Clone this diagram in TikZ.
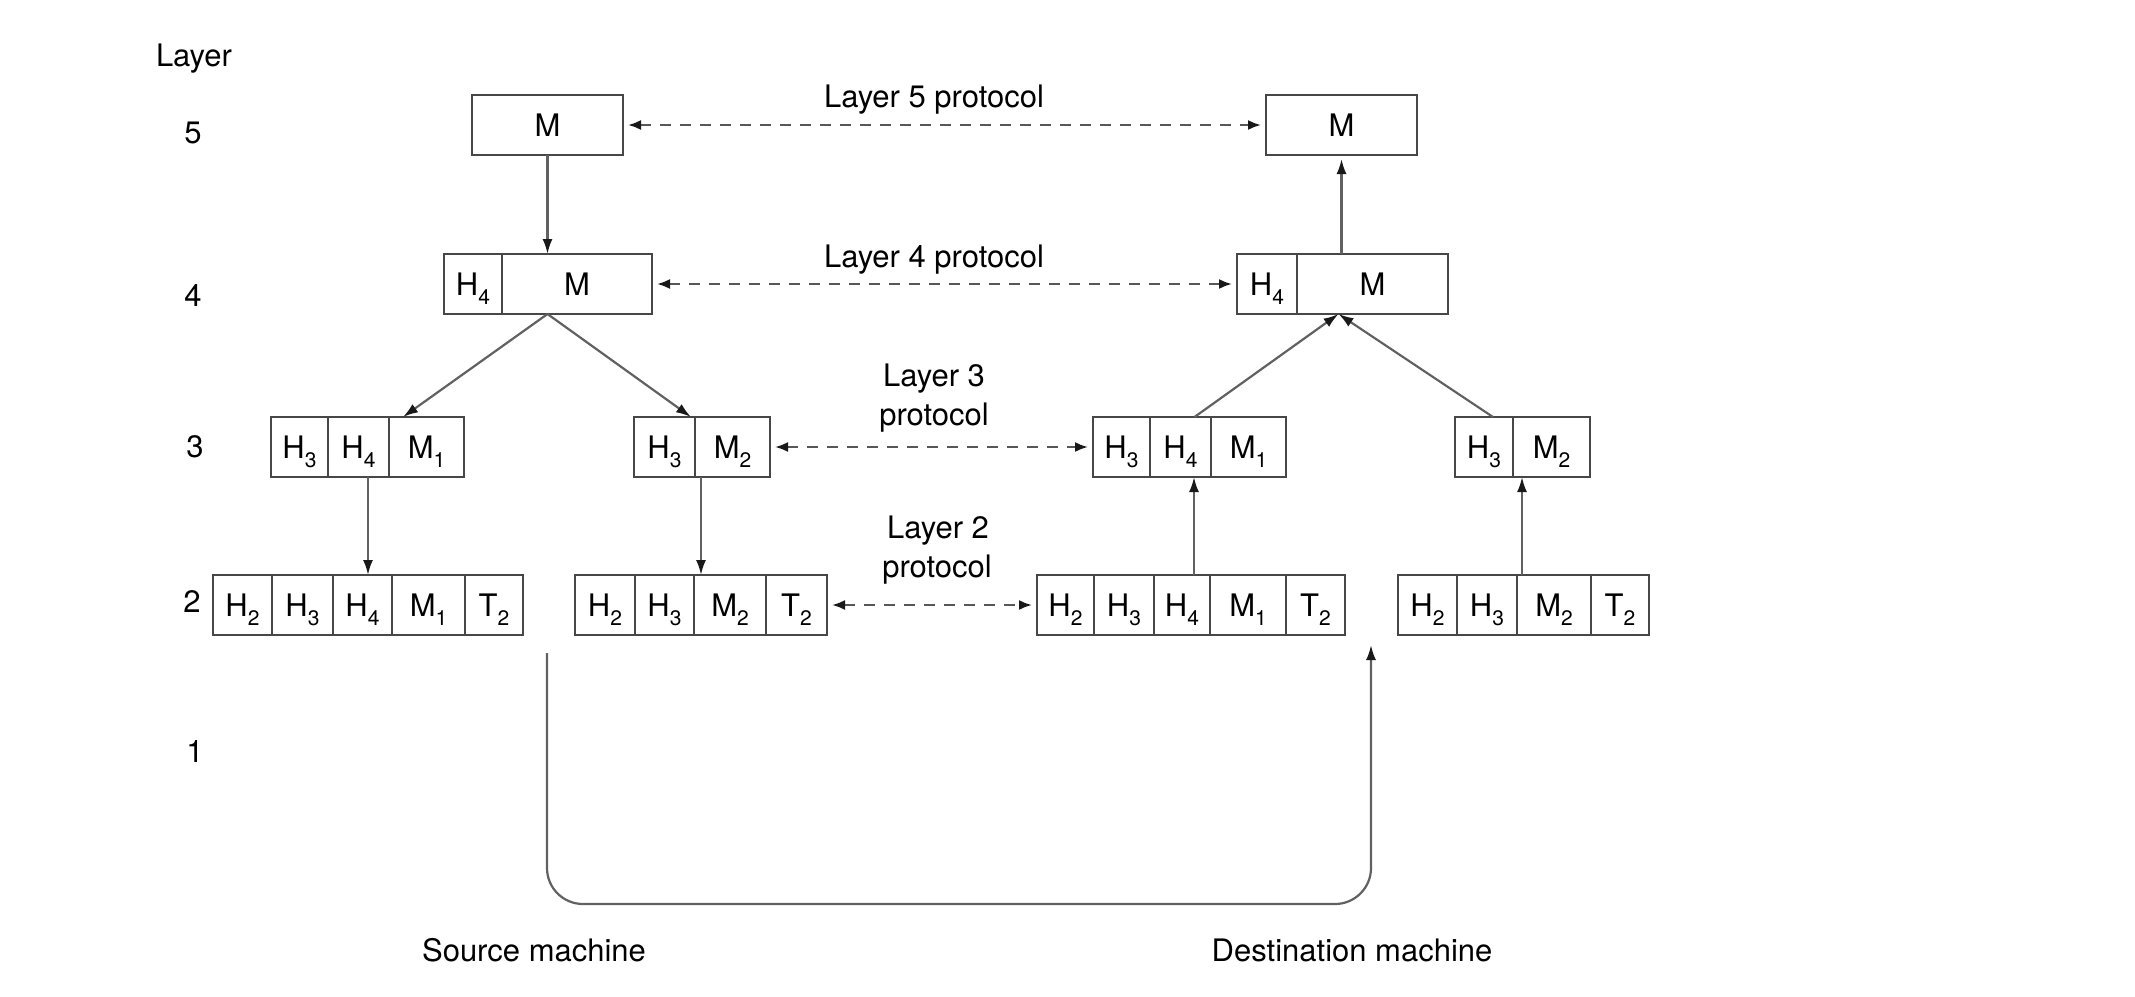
\documentclass[tikz,border=0pt]{standalone}
\usepackage{fontspec}
\setmainfont{TeX Gyre Heros}
\usetikzlibrary{arrows.meta}
\newcommand\lsub[1]{\raisebox{-9pt}{\fontsize{21}{21}\selectfont #1}}
\begin{document}
\begin{tikzpicture}[x=1pt,y=-1pt,
  cell/.style={draw=black!72, line width=2.4pt, minimum height=60pt, inner sep=0pt, outer sep=0pt,
     text=black, text height=22pt, text depth=0pt, font=\fontsize{31}{37}\selectfont},
  lbl/.style={inner sep=0pt, anchor=base, text=black, font=\fontsize{31}{38}\selectfont},
  arr/.style={draw=black!62, line width=2.2pt, -{Latex[length=15pt,width=10pt,color=black!90]}},
  darr/.style={draw=black!66, line width=2.2pt, dash pattern=on 11pt off 9pt,
     {Latex[length=13pt,width=10pt,color=black!90]}-{Latex[length=13pt,width=10pt,color=black!90]},
     shorten <=5pt, shorten >=5pt}]
\useasboundingbox[fill=white] (0,0) rectangle (2135,996);

% layer labels
\node[lbl] (lay) at (194,66) {Layer};
\node[lbl] (n5) at (193,143) {5};
\node[lbl] (n4) at (193,306) {4};
\node[lbl] (n3) at (195,457) {3};
\node[lbl] (n2) at (192,612) {2};
\node[lbl] (n1) at (195,762) {1};

% protocol labels
\node[lbl] (p5) at (934,107) {Layer 5 protocol};
\node[lbl] (p4) at (934,267) {Layer 4 protocol};
\node[lbl] (p3a) at (934,386) {Layer 3};
\node[lbl] (p3b) at (934,425) {protocol};
\node[lbl] (p2a) at (938,538) {Layer 2};
\node[lbl] (p2b) at (937,577) {protocol};

\node[lbl] (srcm) at (534,961) {Source machine};
\node[lbl] (dstm) at (1352,961) {Destination machine};

% ---------- source machine ----------
\node[cell,minimum width=151pt] (s5) at (547.5,125) {M};

\node[cell,minimum width=58pt]  (s4h) at (473,284) {H\lsub{4}};
\node[cell,minimum width=150pt] (s4m) at (577,284) {M};

\node[cell,minimum width=57pt] (s3a1) at (299.5,447) {H\lsub{3}};
\node[cell,minimum width=61pt] (s3a2) at (358.5,447) {H\lsub{4}};
\node[cell,minimum width=75pt] (s3a3) at (426.5,447) {M\lsub{1}};

\node[cell,minimum width=61pt] (s3b1) at (664.5,447) {H\lsub{3}};
\node[cell,minimum width=75pt] (s3b2) at (732.5,447) {M\lsub{2}};

\node[cell,minimum width=59pt] (s2a1) at (242.5,605) {H\lsub{2}};
\node[cell,minimum width=61pt] (s2a2) at (302.5,605) {H\lsub{3}};
\node[cell,minimum width=59pt] (s2a3) at (362.5,605) {H\lsub{4}};
\node[cell,minimum width=73pt] (s2a4) at (428.5,605) {M\lsub{1}};
\node[cell,minimum width=58pt] (s2a5) at (494,605) {T\lsub{2}};

\node[cell,minimum width=60pt] (s2b1) at (605,605) {H\lsub{2}};
\node[cell,minimum width=59pt] (s2b2) at (664.5,605) {H\lsub{3}};
\node[cell,minimum width=72pt] (s2b3) at (730,605) {M\lsub{2}};
\node[cell,minimum width=61pt] (s2b4) at (796.5,605) {T\lsub{2}};

% ---------- destination machine ----------
\node[cell,minimum width=151pt] (d5) at (1341.5,125) {M};

\node[cell,minimum width=60pt]  (d4h) at (1267,284) {H\lsub{4}};
\node[cell,minimum width=151pt] (d4m) at (1372.5,284) {M};

\node[cell,minimum width=57pt] (d3a1) at (1121.5,447) {H\lsub{3}};
\node[cell,minimum width=61pt] (d3a2) at (1180.5,447) {H\lsub{4}};
\node[cell,minimum width=75pt] (d3a3) at (1248.5,447) {M\lsub{1}};

\node[cell,minimum width=58pt] (d3b1) at (1484,447) {H\lsub{3}};
\node[cell,minimum width=77pt] (d3b2) at (1551.5,447) {M\lsub{2}};

\node[cell,minimum width=57pt] (d2a1) at (1065.5,605) {H\lsub{2}};
\node[cell,minimum width=60pt] (d2a2) at (1124,605) {H\lsub{3}};
\node[cell,minimum width=56pt] (d2a3) at (1182,605) {H\lsub{4}};
\node[cell,minimum width=76pt] (d2a4) at (1248,605) {M\lsub{1}};
\node[cell,minimum width=59pt] (d2a5) at (1315.5,605) {T\lsub{2}};

\node[cell,minimum width=59pt] (d2b1) at (1427.5,605) {H\lsub{2}};
\node[cell,minimum width=60pt] (d2b2) at (1487,605) {H\lsub{3}};
\node[cell,minimum width=74pt] (d2b3) at (1554,605) {M\lsub{2}};
\node[cell,minimum width=58pt] (d2b4) at (1620,605) {T\lsub{2}};

% ---------- protocol (dashed) arrows ----------
\draw[darr] (s5.east) -- (d5.west);
\draw[darr] (s4m.east) -- (d4h.west);
\draw[darr] (s3b2.east) -- (d3a1.west);
\draw[darr] (s2b4.east) -- (d2a1.west);

% ---------- source side arrows ----------
\draw[arr] (s5.south) -- (s5.south |- s4m.north);
\path (s5.south |- s4m.south) coordinate (sapex);
\draw[arr] (sapex) -- ([xshift=14pt]s3a3.north west);
\draw[arr] (sapex) -- ([xshift=-4pt]s3b1.north east);
\path ([xshift=9.5pt]s3a2.south) coordinate (sd1);
\draw[arr] (sd1) -- (sd1 |- s2a3.north);
\path ([xshift=6pt]s3b1.south east) coordinate (sd2);
\draw[arr] (sd2) -- (sd2 |- s2b3.north);

% ---------- destination side arrows ----------
\draw[arr, shorten >=4pt] (d5.south |- d4m.north) -- (d5.south);
\path (d5.south |- d4m.south) coordinate (dapex0);
\path ([xshift=-3pt]dapex0) coordinate (dapex);
\draw[arr] ([xshift=14pt]d3a2.north) -- (dapex);
\draw[arr] ([xshift=-20pt]d3b1.north east) -- (dapex);
\path ([xshift=12pt]d2a3.north) coordinate (du1);
\draw[arr] (du1) -- (du1 |- d3a2.south);
\path ([xshift=5pt]d2b3.north west) coordinate (du2);
\draw[arr] (du2) -- (du2 |- d3b2.south);

% ---------- physical medium ----------
\coordinate (src) at (547,653);
\coordinate (dst) at (1371,645);
\coordinate (bot) at (0,904);
\draw[arr, rounded corners=36pt] (src) -- (src |- bot) -- (dst |- bot) -- (dst);
\end{tikzpicture}
\end{document}
